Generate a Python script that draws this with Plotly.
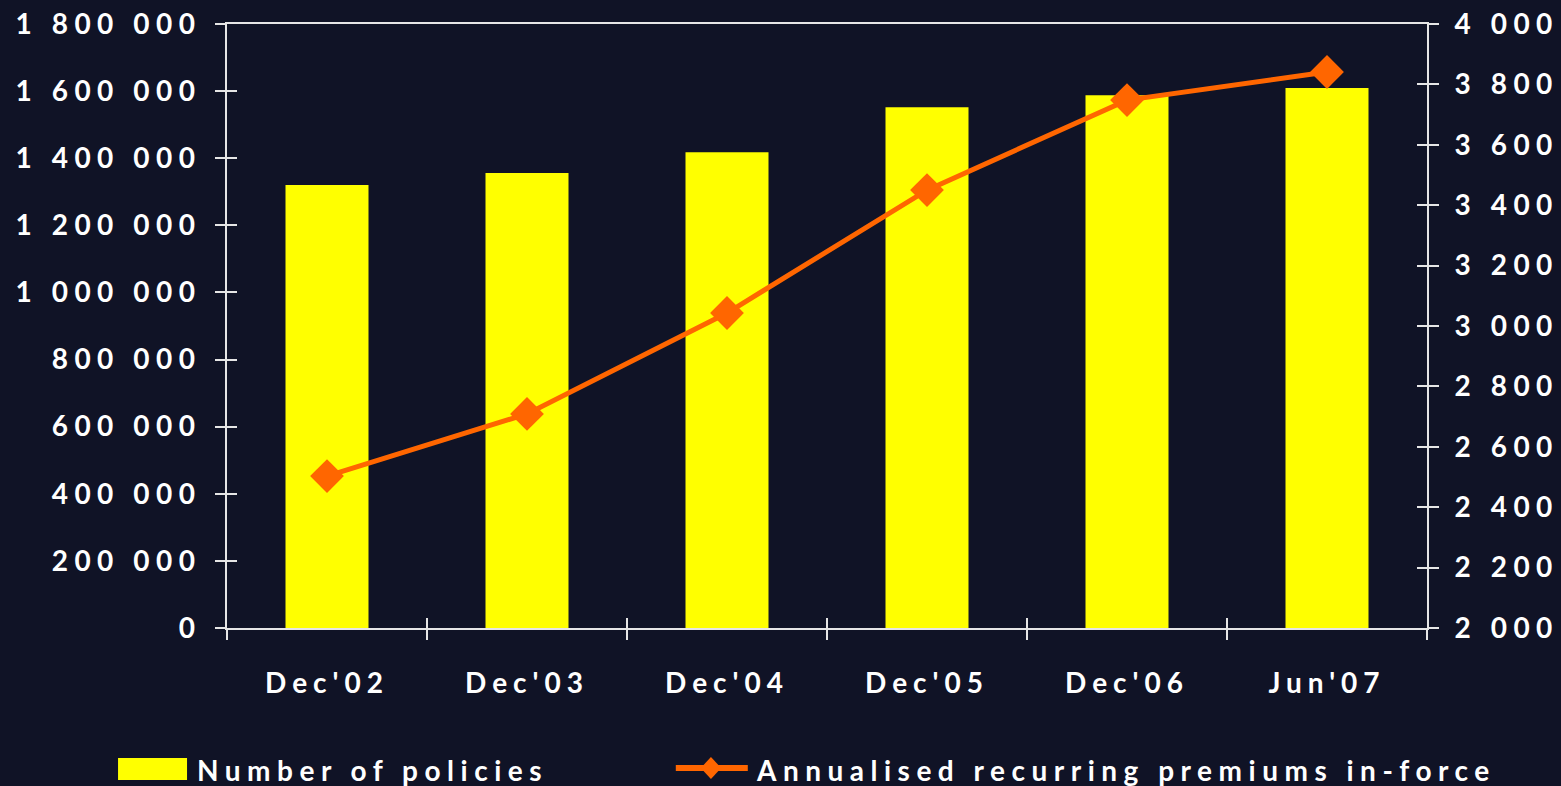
import plotly.graph_objects as go

# Data
categories = ["Dec'02", "Dec'03", "Dec'04", "Dec'05", "Dec'06", "Jun'07"]
policies = [1320000, 1356000, 1418000, 1552000, 1588000, 1609000]
premiums = [2503, 2709, 3043, 3450, 3748, 3841]
policy_ticks = list(range(0, 1800001, 200000))
premium_ticks = list(range(2000, 4001, 200))
bar_name = "Number of policies"
line_name = "Annualised recurring premiums in-force"

BG = "#101326"
AXIS = "#e6e6e6"
YELLOW = "#FFFF00"
ORANGE = "#FF6600"
FONT = "Lato"


def spaced(v):
    return f"{v:,}".replace(",", " ")


tick_font = dict(family=FONT, size=28, color="white", weight="bold")

fig = go.Figure()
fig.add_trace(go.Bar(
    x=categories, y=policies, name=bar_name,
    marker=dict(color=YELLOW, line=dict(width=0)),
    yaxis="y", showlegend=False,
))
fig.add_trace(go.Scatter(
    x=categories, y=premiums, name=line_name, yaxis="y2",
    mode="lines+markers",
    line=dict(color=ORANGE, width=5),
    marker=dict(symbol="diamond", size=26, color=ORANGE),
    showlegend=False,
))

common_axis = dict(showgrid=False, zeroline=False, showline=True,
                   linecolor=AXIS, linewidth=2, tickcolor=AXIS,
                   tickwidth=1.5, ticklen=10, ticks="outside",
                   automargin=False)
inner_ticks = dict(ticks="inside", ticklen=10, tickcolor=AXIS, tickwidth=1.5,
                   showticklabels=False, showgrid=False, zeroline=False,
                   showline=False, automargin=False)

fig.update_layout(
    width=1561, height=786,
    margin=dict(l=227, r=134, t=24, b=158, autoexpand=False),
    paper_bgcolor=BG, plot_bgcolor=BG,
    bargap=0.585,
    xaxis=dict(type="category", tickson="boundaries", range=[-0.5, 5.5],
               mirror=True, tickfont=tick_font, ticklabelstandoff=29,
               **common_axis),
    yaxis=dict(range=[0, 1800000], tickvals=policy_ticks,
               ticktext=[spaced(v) for v in policy_ticks],
               tickfont=tick_font, ticklabelstandoff=8, **common_axis),
    yaxis2=dict(range=[2000, 4000], tickvals=premium_ticks,
                ticktext=[spaced(v) for v in premium_ticks],
                overlaying="y", side="right",
                tickfont=tick_font, ticklabelstandoff=10, **common_axis),
    # inner halves of the crossing tick marks
    xaxis2=dict(overlaying="x", anchor="y", side="bottom", range=[-0.5, 5.5],
                tickvals=[i - 0.5 for i in range(len(categories) + 1)],
                **inner_ticks),
    yaxis3=dict(overlaying="y", anchor="x", side="left", range=[0, 1800000],
                tickvals=policy_ticks, **inner_ticks),
    yaxis4=dict(overlaying="y", anchor="x", side="right", range=[2000, 4000],
                tickvals=premium_ticks, **inner_ticks),
)

# Empty traces so the overlay tick axes are drawn
fig.add_trace(go.Scatter(x=[None], y=[None], xaxis="x2", yaxis="y3",
                         showlegend=False, hoverinfo="skip"))
fig.add_trace(go.Scatter(x=[None], y=[None], xaxis="x2", yaxis="y4",
                         showlegend=False, hoverinfo="skip"))

# Legend drawn below the plot area
legend_y = -0.235
legend_font = dict(family=FONT, size=28, color="white", weight="bold")
fig.add_shape(type="rect", xref="paper", yref="paper",
              x0=-0.0908, x1=-0.0333, y0=-0.2517, y1=-0.2152,
              fillcolor=YELLOW, line=dict(width=0))
fig.add_annotation(text=bar_name, xref="paper", yref="paper",
                   x=-0.027, y=legend_y, xanchor="left", yanchor="middle",
                   align="left", showarrow=False, font=legend_font)
fig.add_shape(type="line", xref="paper", yref="paper",
              x0=0.374, x1=0.434, y0=-0.2318, y1=-0.2318,
              line=dict(color=ORANGE, width=6))
cx, cy, hw, hh = 0.4033, -0.2318, 0.0085, 0.0182
fig.add_shape(type="path", xref="paper", yref="paper",
              path=f"M {cx - hw},{cy} L {cx},{cy + hh} L {cx + hw},{cy} L {cx},{cy - hh} Z",
              fillcolor=ORANGE, line=dict(width=0))
fig.add_annotation(text=line_name, xref="paper", yref="paper",
                   x=0.439, y=legend_y, xanchor="left", yanchor="middle",
                   align="left", showarrow=False, font=legend_font)

spacing_js = """
var s = document.createElement('style');
s.textContent = '.ytick text, .y2tick text {letter-spacing: 6.5px;}'
  + ' .xtick text {letter-spacing: 6px;}'
  + ' .annotation-text {letter-spacing: 6.5px;}';
document.head.appendChild(s);
"""

fig.write_html("out.html", post_script=spacing_js)
